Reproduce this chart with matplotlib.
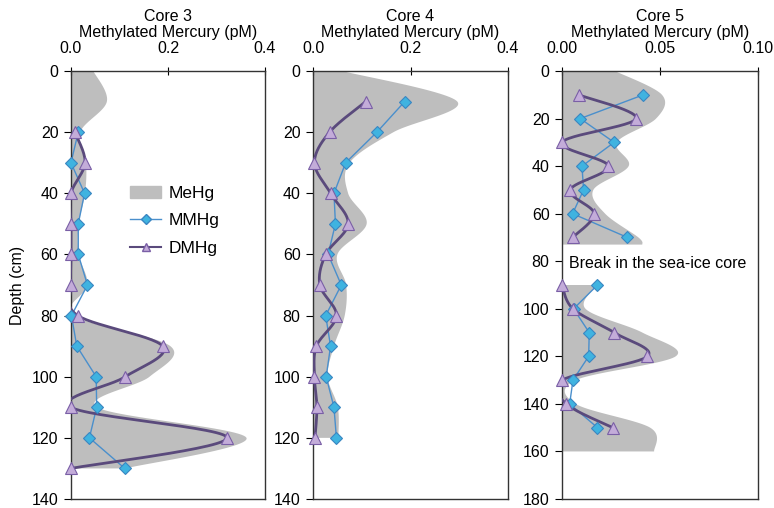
import numpy as np
import matplotlib.pyplot as plt
from matplotlib.patches import Patch
from matplotlib.lines import Line2D

plt.rcParams['font.family'] = ['Liberation Sans', 'DejaVu Sans']
plt.rcParams['font.size'] = 11.5

# --- data ---
c3_depth = [20, 30, 40, 50, 60, 70, 80, 90, 100, 110, 120, 130]
c3_mmhg = [0.015, 0.0, 0.028, 0.015, 0.015, 0.034, 0.001, 0.012, 0.052, 0.053, 0.038, 0.111]
c3_dmhg = [0.008, 0.029, 0.0, 0.0, 0.0, 0.0, 0.014, 0.189, 0.112, 0.0, 0.322, 0.0]
c3_mehg_depth = [0, 10, 20, 30, 40, 50, 60, 70, 80, 90, 100, 110, 120, 130]
c3_mehg = [0.046, 0.074, 0.019, 0.031, 0.029, 0.016, 0.016, 0.034, 0.006, 0.205, 0.162, 0.054, 0.362, 0.112]

c4_depth = [10, 20, 30, 40, 50, 60, 70, 80, 90, 100, 110, 120]
c4_mmhg = [0.188, 0.131, 0.067, 0.043, 0.046, 0.031, 0.058, 0.026, 0.036, 0.027, 0.043, 0.048]
c4_dmhg = [0.108, 0.034, 0.003, 0.036, 0.072, 0.026, 0.014, 0.048, 0.007, 0.003, 0.008, 0.004]
c4_mehg_depth = [0, 10, 20, 30, 40, 50, 60, 70, 80, 90, 100, 110, 120]
c4_mehg = [0.06, 0.296, 0.165, 0.075, 0.072, 0.11, 0.05, 0.068, 0.065, 0.043, 0.03, 0.051, 0.052]

c5_depth = [10, 20, 30, 40, 50, 60, 70, 90, 100, 110, 120, 130, 140, 150]
c5_mmhg = [0.0415, 0.0093, 0.0266, 0.0102, 0.011, 0.0054, 0.0334,
           0.0181, 0.0059, 0.0139, 0.0136, 0.0056, 0.0039, 0.0181]
c5_dmhg = [0.0085, 0.0378, 0.0, 0.0237, 0.0042, 0.0164, 0.0054,
           0.0, 0.0056, 0.0266, 0.0436, 0.0, 0.0022, 0.0259]
c5_mehg_depth = [0, 10, 20, 30, 40, 50, 60, 70, 73, 90, 100, 110, 120, 130, 140, 150, 160]
c5_mehg = [0.027, 0.051, 0.048, 0.028, 0.034, 0.016, 0.022, 0.039, 0.041,
           0.018, 0.012, 0.041, 0.058, 0.007, 0.007, 0.045, 0.047]

gray = '#bebebe'
mm_face, mm_edge, mm_line = '#3fb3e0', '#3a86c2', '#4a8fcc'
dm_face, dm_edge, dm_line = '#c3acd9', '#7a5fa6', '#5a4a7c'


def smooth(x, y, n=30):
    # Catmull-Rom style smoothing like a spreadsheet "smoothed line"
    x = np.asarray(x, float)
    y = np.asarray(y, float)
    if len(x) < 3:
        return x, y
    px = np.concatenate([[x[0]], x, [x[-1]]])
    py = np.concatenate([[y[0]], y, [y[-1]]])
    xs, ys = [], []
    t = np.linspace(0, 1, n)
    for i in range(1, len(px) - 2):
        b0x, b0y = px[i], py[i]
        b3x, b3y = px[i + 1], py[i + 1]
        b1x = b0x + (px[i + 1] - px[i - 1]) / 6
        b1y = b0y + (py[i + 1] - py[i - 1]) / 6
        b2x = b3x - (px[i + 2] - px[i]) / 6
        b2y = b3y - (py[i + 2] - py[i]) / 6
        xs.append((1 - t) ** 3 * b0x + 3 * (1 - t) ** 2 * t * b1x + 3 * (1 - t) * t ** 2 * b2x + t ** 3 * b3x)
        ys.append((1 - t) ** 3 * b0y + 3 * (1 - t) ** 2 * t * b1y + 3 * (1 - t) * t ** 2 * b2y + t ** 3 * b3y)
    return np.concatenate(xs), np.concatenate(ys)


def segments(depth, vals, gap=15):
    depth = list(depth)
    vals = list(vals)
    out, cur_d, cur_v = [], [depth[0]], [vals[0]]
    for d, v in zip(depth[1:], vals[1:]):
        if d - cur_d[-1] > gap:
            out.append((cur_d, cur_v))
            cur_d, cur_v = [], []
        cur_d.append(d)
        cur_v.append(v)
    out.append((cur_d, cur_v))
    return out


def draw_core(ax, depth, mm, dm, me_depth, me, title, xmax, xticks, xfmt, ymax, yticks):
    for d, v in segments(me_depth, me):
        sx, sy = smooth(v, d)
        sx = np.clip(sx, 0, None)
        ax.fill(np.concatenate([[0], sx, [0]]), np.concatenate([[sy[0]], sy, [sy[-1]]]),
                color=gray, lw=0, zorder=1)
    for d, v in segments(depth, mm):
        ax.plot(v, d, color=mm_line, lw=1.0, zorder=2)
        ax.plot(v, d, ls='none', marker='D', ms=6.5, mfc=mm_face, mec=mm_edge, mew=0.8,
                zorder=4, clip_on=False)
    for d, v in segments(depth, dm):
        sx, sy = smooth(v, d)
        ax.plot(sx, sy, color=dm_line, lw=2.0, zorder=3)
        ax.plot(v, d, ls='none', marker='^', ms=8, mfc=dm_face, mec=dm_edge, mew=0.8,
                zorder=5, clip_on=False)
    ax.set_xlim(0, xmax)
    ax.set_ylim(ymax, 0)
    ax.set_xticks(xticks)
    ax.set_xticklabels([xfmt.format(t) for t in xticks])
    ax.set_yticks(yticks)
    ax.xaxis.tick_top()
    ax.xaxis.set_label_position('top')
    ax.set_xlabel(title + '\nMethylated Mercury (pM)', labelpad=3, linespacing=1.05)
    ax.tick_params(axis='x', direction='inout', length=6, pad=8)
    ax.tick_params(axis='y', direction='out', length=5, pad=4)
    for s in ax.spines.values():
        s.set_linewidth(1.0)
        s.set_color('#333333')


fig = plt.figure(figsize=(7.74, 5.08), dpi=100)
ax3 = fig.add_axes([0.0917, 0.0177, 0.2506, 0.8425])
ax4 = fig.add_axes([0.4044, 0.0177, 0.2520, 0.8425])
ax5 = fig.add_axes([0.7261, 0.0177, 0.2532, 0.8425])

draw_core(ax3, c3_depth, c3_mmhg, c3_dmhg, c3_mehg_depth, c3_mehg, 'Core 3',
          0.4, [0.0, 0.2, 0.4], '{:.1f}', 140, range(0, 141, 20))
draw_core(ax4, c4_depth, c4_mmhg, c4_dmhg, c4_mehg_depth, c4_mehg, 'Core 4',
          0.4, [0.0, 0.2, 0.4], '{:.1f}', 140, range(0, 141, 20))
draw_core(ax5, c5_depth, c5_mmhg, c5_dmhg, c5_mehg_depth, c5_mehg, 'Core 5',
          0.1, [0.0, 0.05, 0.1], '{:.2f}', 180, range(0, 181, 20))

ax3.set_ylabel('Depth (cm)', labelpad=5)
ax5.text(0.0035, 81, 'Break in the sea-ice core', va='center', ha='left', zorder=6)

handles = [Patch(color=gray, label='MeHg'),
           Line2D([], [], color=mm_line, lw=1.0, marker='D', ms=5, mfc=mm_face, mec=mm_edge, label='MMHg'),
           Line2D([], [], color=dm_line, lw=1.5, marker='^', ms=6, mfc=dm_face, mec=dm_edge, label='DMHg')]
ax3.legend(handles=handles, loc='upper left', bbox_to_anchor=(0.224, 0.768), frameon=False,
           handlelength=1.8, handletextpad=0.4, labelspacing=0.7, fontsize=12.5)

fig.savefig('out.png', dpi=100)
